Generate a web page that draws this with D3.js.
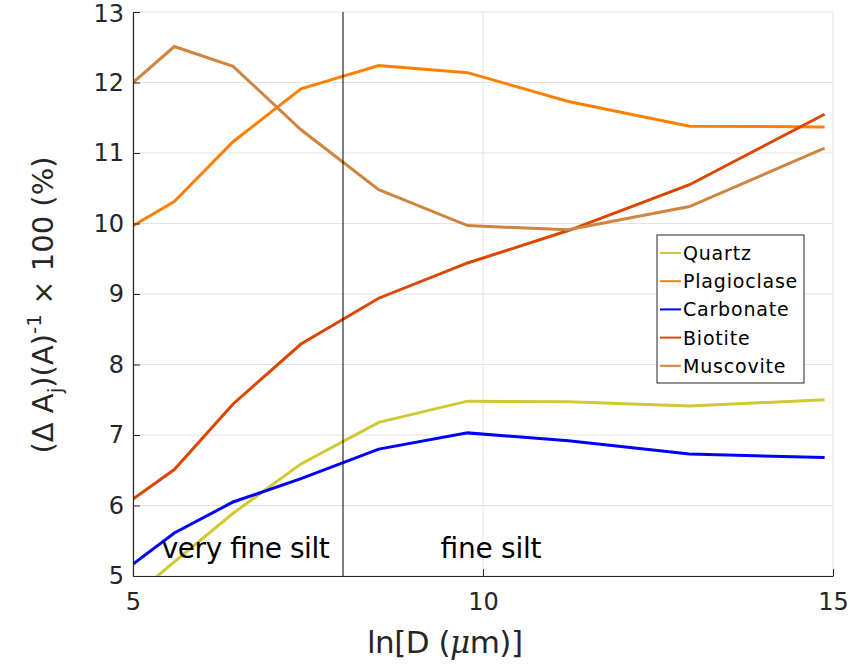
<!DOCTYPE html>
<html>
<head>
<meta charset="utf-8">
<script src="https://cdn.jsdelivr.net/npm/d3@7"></script>
<style>
  body { margin: 0; background: #fff; }
  text { font-family: "DejaVu Sans", sans-serif; }
</style>
</head>
<body>
<svg id="chart" width="850" height="669"></svg>
<script>
// grain size (ln D) sampled for every mineral
const sizes = [5, 5.59, 6.43, 7.4, 8.51, 9.78, 11.22, 12.95, 14.88];

const quartz      = [4.71, 5.20, 5.89, 6.59, 7.18, 7.48, 7.47, 7.41, 7.50];
const plagioclase = [9.97, 10.31, 11.16, 11.91, 12.24, 12.14, 11.73, 11.38, 11.37];
const carbonate   = [5.17, 5.61, 6.05, 6.38, 6.80, 7.03, 6.92, 6.73, 6.68];
const biotite     = [6.09, 6.51, 7.44, 8.29, 8.94, 9.44, 9.90, 10.55, 11.55];
const muscovite   = [12.00, 12.51, 12.23, 11.33, 10.48, 9.97, 9.91, 10.24, 11.07];

const names  = ["Quartz", "Plagioclase", "Carbonate", "Biotite", "Muscovite"];
const colors = ["#d2c832", "#ff8000", "#0000ff", "#dc4600", "#cd853f"];

const xTicks = [5, 10, 15];
const yTicks = [5, 6, 7, 8, 9, 10, 11, 12, 13];
const boundary = 8; // very fine silt | fine silt

const series = [quartz, plagioclase, carbonate, biotite, muscovite];

const svg = d3.select("#chart");
const margin = {left: 133, top: 12, right: 17, bottom: 93};
const width = 850 - margin.left - margin.right;
const height = 669 - margin.top - margin.bottom;

const x = d3.scaleLinear().domain([5, 15]).range([0, width]);
const y = d3.scaleLinear().domain([5, 13]).range([height, 0]);

const g = svg.append("g").attr("transform", `translate(${margin.left},${margin.top})`);

// grid
g.selectAll(".gy").data(yTicks).join("line")
  .attr("x1", 0).attr("x2", width)
  .attr("y1", d => y(d)).attr("y2", d => y(d))
  .attr("stroke", "#e3e3e3").attr("stroke-width", 1);
g.selectAll(".gx").data(xTicks).join("line")
  .attr("x1", d => x(d)).attr("x2", d => x(d))
  .attr("y1", 0).attr("y2", height)
  .attr("stroke", "#e3e3e3").attr("stroke-width", 1);

g.append("clipPath").attr("id", "clip")
  .append("rect").attr("width", width).attr("height", height);

// lines
const line = d3.line().x((d, i) => x(sizes[i])).y(d => y(d));
const plot = g.append("g").attr("clip-path", "url(#clip)");
series.forEach((s, k) => {
  plot.append("path")
    .attr("d", line(s))
    .attr("fill", "none")
    .attr("stroke", colors[k])
    .attr("stroke-width", 3);
});

// boundary line
g.append("line")
  .attr("x1", x(boundary)).attr("x2", x(boundary))
  .attr("y1", 0).attr("y2", height)
  .attr("stroke", "#000").attr("stroke-width", 1);

// axes
const xAxis = d3.axisBottom(x).tickValues(xTicks).tickSizeInner(-7).tickSizeOuter(0).tickPadding(17);
const yAxis = d3.axisLeft(y).tickValues(yTicks).tickSizeInner(-7).tickSizeOuter(0).tickPadding(9);

const gx = g.append("g").attr("transform", `translate(0,${height})`).call(xAxis);
const gy = g.append("g").call(yAxis);
[gx, gy].forEach(a => {
  a.select(".domain").attr("stroke", "#262626").attr("stroke-width", 1.2);
  a.selectAll(".tick line").attr("stroke", "#262626");
  a.selectAll(".tick text").attr("fill", "#262626").style("font-size", "24px");
});
// keep the top label inside the page
gy.selectAll(".tick text").filter(d => d === 13).attr("dy", "0.40em");

// region labels
g.append("text").attr("x", x(5.41)).attr("y", y(5.26))
  .style("font-size", "28px").attr("fill", "#000")
  .attr("textLength", 168).text("very fine silt");
g.append("text").attr("x", x(9.39)).attr("y", y(5.26))
  .style("font-size", "28px").attr("fill", "#000")
  .attr("textLength", 101).text("fine silt");

// x label
const xl = svg.append("text")
  .attr("x", 367).attr("y", 653)
  .attr("textLength", 156)
  .style("font-size", "31px").attr("fill", "#262626");
xl.append("tspan").text("ln[D (");
xl.append("tspan").style("font-style", "italic").style("font-family", "DejaVu Serif").text("\u03bc");
xl.append("tspan").text("m)]");

// y label
const yl = svg.append("text")
  .attr("transform", "translate(53,305) rotate(-90)")
  .attr("text-anchor", "middle")
  .style("font-size", "29px").attr("fill", "#262626");
yl.append("tspan").text("(\u0394 A");
yl.append("tspan").attr("dy", 9).style("font-size", "20px").text("j");
yl.append("tspan").attr("dy", -9).text(")(A)");
yl.append("tspan").attr("dy", -12).style("font-size", "20px").text("-1");
yl.append("tspan").attr("dy", 12).text(" \u00d7 100 (%)");

// legend
const lg = svg.append("g").attr("transform", "translate(657,235)");
lg.append("rect").attr("width", 147).attr("height", 148)
  .attr("fill", "#fff").attr("stroke", "#262626").attr("stroke-width", 1);
names.forEach((n, k) => {
  const yy = 18 + k * 28.2;
  lg.append("line").attr("x1", 3).attr("x2", 24).attr("y1", yy).attr("y2", yy)
    .attr("stroke", colors[k]).attr("stroke-width", 2);
  lg.append("text").attr("x", 26).attr("y", yy + 7)
    .style("font-size", "19px").style("letter-spacing", "0.8px")
    .attr("fill", "#000").text(n);
});
</script>
</body>
</html>
